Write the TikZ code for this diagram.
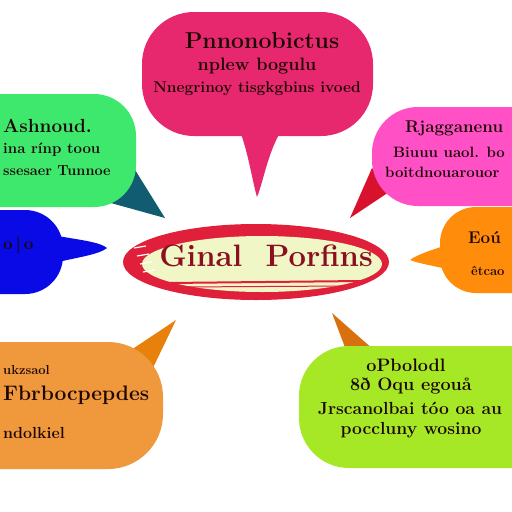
\documentclass[tikz,border=0pt]{standalone}
\usepackage{tikz}
\definecolor{topPink}{HTML}{E8286E}
\definecolor{leafGreen}{HTML}{3EE86C}
\definecolor{deepTeal}{HTML}{125C72}
\definecolor{hotMagenta}{HTML}{FF50C6}
\definecolor{tailRed}{HTML}{D8122C}
\definecolor{royalBlue}{HTML}{0A0AE6}
\definecolor{brightOrange}{HTML}{FF8C0A}
\definecolor{softOrange}{HTML}{F0983C}
\definecolor{tailOrange}{HTML}{E8800C}
\definecolor{limeGreen}{HTML}{A6E826}
\definecolor{tailBrown}{HTML}{D87010}
\definecolor{paleCream}{HTML}{F0F6C6}
\definecolor{rimRed}{HTML}{E0203A}
\definecolor{wineRed}{HTML}{8A1020}
\definecolor{inkBrown}{HTML}{1E0806}

\begin{document}
\begin{tikzpicture}[x=1pt, y=-1pt,
    bubtext/.style={font=\bfseries, text=inkBrown, inner sep=0pt},
    ]
    \clip (0,0) rectangle (512,512);
    \fill[white] (0,0) rectangle (512,512);

    % blue bubble
    \fill[royalBlue] (58,236) .. controls (80,240) and (100,242) .. (107,248)
      .. controls (100,254) and (80,257) .. (58,262) -- cycle;
    \fill[royalBlue, rounded corners=38pt] (-60,210) rectangle (63,294);

    % green bubble
    \fill[deepTeal] (100,200) -- (165,218) -- (132,165) -- cycle;
    \fill[leafGreen, rounded corners=42pt] (-60,94) rectangle (136,207);

    % top pink bubble
    \fill[topPink] (238,126) .. controls (248,150) and (252,180) .. (257,197)
      .. controls (264,180) and (268,150) .. (284,126) -- cycle;
    \fill[topPink, rounded corners=52pt] (142,12) rectangle (373,136);

    % orange right bubble
    \fill[brightOrange] (450,244) .. controls (432,250) and (418,254) .. (410,260)
      .. controls (420,264) and (436,266) .. (450,270) -- cycle;
    \fill[brightOrange, rounded corners=36pt] (440,207) rectangle (580,293);

    % magenta bubble
    \fill[tailRed] (372,168) -- (350,218) -- (392,190) -- cycle;
    \fill[hotMagenta, rounded corners=46pt] (372,107) rectangle (580,206);

    % bottom-left orange bubble
    \fill[tailOrange] (122,356) -- (176,320) -- (150,374) -- cycle;
    \fill[softOrange, rounded corners=55pt] (-60,342) rectangle (163,469);

    % lime bubble
    \fill[tailBrown] (346,350) -- (332,313) -- (374,350) -- cycle;
    \fill[limeGreen, rounded corners=50pt] (299,346) rectangle (580,468);

    % centre ellipse
    \fill[rimRed] (256,262) ellipse (133 and 38);
    \fill[paleCream] (262,264) ellipse (120 and 28);
    \draw[rimRed, line width=2pt] (168,283) -- (362,281);
    \draw[rimRed, line width=1pt] (178,287) -- (350,286);
    \foreach \k in {0,1,2,3}
      \draw[white, line width=1.2pt] (134+3*\k,248+8*\k) -- (146+3*\k,246+8*\k);
    \node[font=\bfseries\fontsize{31}{34}\selectfont, text=wineRed, inner sep=0pt]
      (title) at (266,256) {Ginal\ \ Porfins};

    % texts
    \node[bubtext, font=\bfseries\fontsize{23}{26}\selectfont] (pinkA) at (262,41) {Pnnonobictus};
    \node[bubtext, font=\bfseries\fontsize{18}{21}\selectfont] (pinkB) at (257,66) {nplew bogulu};
    \node[bubtext, font=\bfseries\fontsize{15.5}{18}\selectfont] (pinkC) at (257,89) {Nnegrinoy tisgkgbins ivoed};

    \node[bubtext, anchor=west, font=\bfseries\fontsize{19}{22}\selectfont] (greenA) at (3,126) {Ashnoud.};
    \node[bubtext, anchor=west, font=\bfseries\fontsize{15}{18}\selectfont] (greenB) at (3,150) {ina r\'inp toou};
    \node[bubtext, anchor=west, font=\bfseries\fontsize{14.5}{17}\selectfont] (greenC) at (3,171) {ssesaer Tunnoe};

    \node[bubtext, anchor=west, font=\bfseries\fontsize{17}{20}\selectfont] (magA) at (405,128) {Rjagganenu};
    \node[bubtext, anchor=west, font=\bfseries\fontsize{15}{18}\selectfont] (magB) at (393,152) {Biuuu uaol. bo};
    \node[bubtext, anchor=west, font=\bfseries\fontsize{15}{18}\selectfont] (magC) at (385,172) {boitdnouarouor};

    \node[bubtext, anchor=west, font=\bfseries\fontsize{17}{20}\selectfont] (blueA) at (3,245) {o\,|\,o};

    \node[bubtext, anchor=west, font=\bfseries\fontsize{17}{20}\selectfont] (oranA) at (468,238) {Eo\'u};
    \node[bubtext, anchor=west, font=\bfseries\fontsize{13}{16}\selectfont] (oranB) at (471,271) {\^etcao};

    \node[bubtext, anchor=west, font=\bfseries\fontsize{13}{16}\selectfont] (softA) at (3,370) {ukzsaol};
    \node[bubtext, anchor=west, font=\bfseries\fontsize{21}{24}\selectfont] (softB) at (3,395) {Fbrbocpepdes};
    \node[bubtext, anchor=west, font=\bfseries\fontsize{16}{19}\selectfont] (softC) at (3,433) {ndolkiel};

    \node[bubtext, font=\bfseries\fontsize{18}{21}\selectfont] (limeA) at (406,365) {oPbolodl};
    \node[bubtext, font=\bfseries\fontsize{18}{21}\selectfont] (limeB) at (411,386) {8\dh{} Oqu egou\aa};
    \node[bubtext, font=\bfseries\fontsize{17.5}{20}\selectfont] (limeC) at (410,408) {Jrscanolbai t\'oo oa au};
    \node[bubtext, font=\bfseries\fontsize{17.5}{20}\selectfont] (limeD) at (411,430) {poccluny wosino};
\end{tikzpicture}
\end{document}
